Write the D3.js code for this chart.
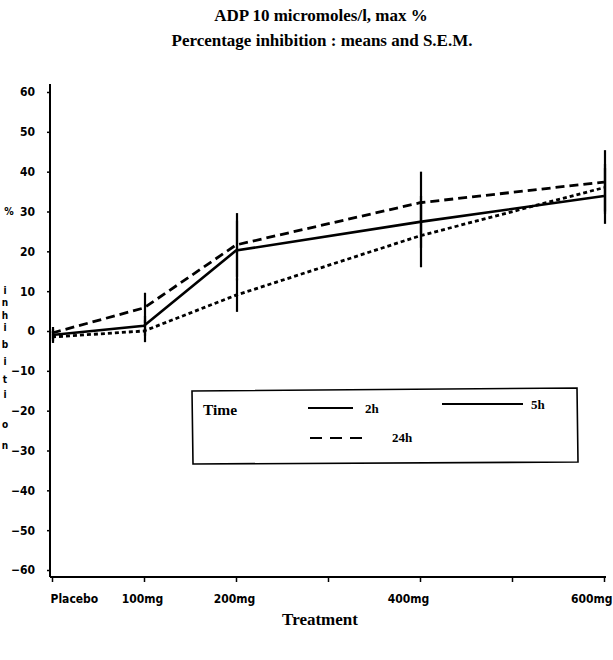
<!DOCTYPE html>
<html>
<head>
<meta charset="utf-8">
<script src="https://cdn.jsdelivr.net/npm/d3@7/dist/d3.min.js"></script>
<style>
  html, body { margin: 0; padding: 0; background: #fff; }
  svg { display: block; }
  .serif { font-family: "Liberation Serif", "DejaVu Serif", serif; font-weight: bold; fill: #000; }
  .cond { font-family: "DejaVu Sans Condensed", "Liberation Sans Narrow", "DejaVu Sans", sans-serif; font-weight: bold; fill: #000; }
</style>
</head>
<body>
<svg id="chart" width="613" height="660"></svg>
<script>
// Doses (mg) at which inhibition was measured; 0 = placebo
const doses = [0, 100, 200, 400, 600];
const xTicks = [0, 100, 200, 300, 400, 500, 600];
const xTickLabels = ["Placebo", "100mg", "200mg", "", "400mg", "", "600mg"];
const yTicks = [60, 50, 40, 30, 20, 10, 0, -10, -20, -30, -40, -50, -60];

// Mean percentage inhibition per time point
const mean2h  = [-1.0, 1.3, 20.2, 27.4, 33.9];
const mean5h  = [-1.5, 0.0, 9.0, 23.9, 36.0];
const mean24h = [-0.5, 5.8, 21.6, 32.2, 37.4];

// Standard errors of the mean
const sem2h  = [1.5, 2.5, 7.5, 6.5, 7.0];
const sem5h  = [1.5, 2.8, 4.2, 7.9, 6.0];
const sem24h = [1.5, 3.8, 8.0, 7.8, 8.0];

const seriesNames = ["2h", "5h", "24h"];
const yLetters = ["i", "n", "h", "i", "b", "i", "t", "i", "o", "n"];

const svg = d3.select("#chart");

const x = d3.scaleLinear().domain([0, 600]).range([52, 604]);
const y = d3.scaleLinear().domain([-60, 60]).range([570, 92]);

// Titles
svg.append("text").attr("class", "serif").attr("x", 321).attr("y", 21)
  .attr("text-anchor", "middle").attr("font-size", 17)
  .text("ADP 10 micromoles/l, max %");
svg.append("text").attr("class", "serif").attr("x", 322).attr("y", 46)
  .attr("text-anchor", "middle").attr("font-size", 17)
  .text("Percentage inhibition : means and S.E.M.");

// Axes lines
svg.append("line").attr("x1", 50).attr("x2", 50).attr("y1", 84).attr("y2", 577)
  .attr("stroke", "#000").attr("stroke-width", 2);
svg.append("line").attr("x1", 50).attr("x2", 606).attr("y1", 577).attr("y2", 577)
  .attr("stroke", "#000").attr("stroke-width", 2);

// Y axis ticks and labels
const yAxis = d3.axisLeft(y).tickValues(yTicks).tickSize(3).tickPadding(12)
  .tickFormat(d3.format("d"));
const gy = svg.append("g").attr("transform", "translate(50,0)").call(yAxis);
gy.select(".domain").remove();
gy.selectAll(".tick line").attr("stroke", "#000").attr("stroke-width", 1.5);
gy.selectAll(".tick text").attr("class", "cond").attr("font-size", 12)
  .style("font-family", "'DejaVu Sans Condensed','Liberation Sans Narrow',sans-serif")
  .style("font-weight", "bold");

// X axis ticks and labels
const xAxis = d3.axisBottom(x).tickValues(xTicks).tickSize(5).tickPadding(12)
  .tickFormat((d, i) => xTickLabels[i]);
const gx = svg.append("g").attr("transform", "translate(0,577)").call(xAxis);
gx.select(".domain").remove();
gx.selectAll(".tick line").attr("stroke", "#000").attr("stroke-width", 1.5);
gx.selectAll(".tick text").attr("class", "cond").attr("font-size", 12)
  .style("font-family", "'DejaVu Sans Condensed','Liberation Sans Narrow',sans-serif")
  .style("font-weight", "bold")
  .attr("text-anchor", d => d === 0 ? "start" : (d === 600 ? "end" : "middle"))
  .attr("dx", d => d === 0 ? -2 : (d === 600 ? 8 : (d === 400 ? -12 : -2)));

// Vertical y-axis title: "%" and stacked "inhibition"
svg.append("text").attr("class", "cond").attr("x", 9).attr("y", 215)
  .attr("text-anchor", "middle").attr("font-size", 10.5).text("%");
const letterY = [294, 306, 319, 331, 348, 365, 383, 398, 428, 449];
svg.append("g").selectAll("text").data(yLetters).join("text")
  .attr("class", "cond").attr("x", 5).attr("y", (d, i) => letterY[i])
  .attr("text-anchor", "middle").attr("font-size", 10).text(d => d);

// Series
const series = [
  { name: seriesNames[0], mean: mean2h,  sem: sem2h,  dash: null },
  { name: seriesNames[1], mean: mean5h,  sem: sem5h,  dash: "4,3" },
  { name: seriesNames[2], mean: mean24h, sem: sem24h, dash: "9,5" }
];

const line = d3.line().x(d => x(d.dose)).y(d => y(d.v));

// Error bars
series.forEach(s => {
  svg.append("g").selectAll("line").data(doses).join("line")
    .attr("x1", d => x(d) + 1)
    .attr("x2", d => x(d) + 1)
    .attr("y1", (d, i) => y(s.mean[i] + s.sem[i]))
    .attr("y2", (d, i) => y(s.mean[i] - s.sem[i]))
    .attr("stroke", "#000").attr("stroke-width", 2.2);
});

// Lines
series.forEach(s => {
  const pts = doses.map((d, i) => ({ dose: d, v: s.mean[i] }));
  svg.append("path").datum(pts).attr("d", line)
    .attr("fill", "none").attr("stroke", "#000")
    .attr("stroke-width", s.dash ? 2.8 : 2.6)
    .attr("stroke-dasharray", s.dash);
});

// Legend
const lg = svg.append("g");
lg.append("path").attr("d", "M192,391 L577,388 L578,462 L193,464 Z")
  .attr("fill", "none").attr("stroke", "#000").attr("stroke-width", 1.6);
lg.append("text").attr("class", "serif").attr("x", 203).attr("y", 415)
  .attr("font-size", 15.5).text("Time");
lg.append("line").attr("x1", 308).attr("x2", 353).attr("y1", 408).attr("y2", 408)
  .attr("stroke", "#000").attr("stroke-width", 1.8);
lg.append("text").attr("class", "serif").attr("x", 365).attr("y", 413)
  .attr("font-size", 13).text(seriesNames[0]);
lg.append("line").attr("x1", 442).attr("x2", 523).attr("y1", 404).attr("y2", 404)
  .attr("stroke", "#000").attr("stroke-width", 1.8);
lg.append("text").attr("class", "serif").attr("x", 531).attr("y", 409)
  .attr("font-size", 13).text(seriesNames[1]);
lg.append("line").attr("x1", 310).attr("x2", 362).attr("y1", 438).attr("y2", 438)
  .attr("stroke", "#000").attr("stroke-width", 2).attr("stroke-dasharray", "12,8");
lg.append("text").attr("class", "serif").attr("x", 392).attr("y", 442)
  .attr("font-size", 13).text(seriesNames[2]);

// X axis title
svg.append("text").attr("class", "serif").attr("x", 320).attr("y", 625)
  .attr("text-anchor", "middle").attr("font-size", 17).text("Treatment");
</script>
</body>
</html>
